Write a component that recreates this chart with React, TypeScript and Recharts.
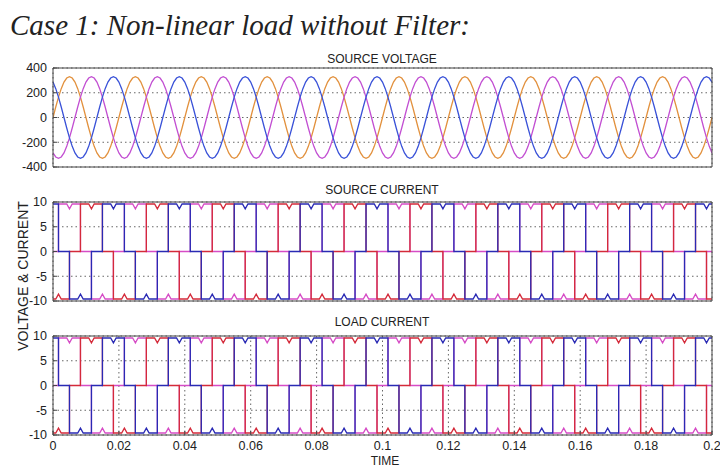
import { CartesianGrid, Line, LineChart, XAxis, YAxis } from "recharts";

// time axis (seconds)
const period = 0.02;
const cycles = 10;
const timeTicks = [0, 0.02, 0.04, 0.06, 0.08, 0.1, 0.12, 0.14, 0.16, 0.18, 0.2];
const timeLabels = ["0", "0.02", "0.04", "0.06", "0.08", "0.1", "0.12", "0.14", "0.16", "0.18", "0.2"];

// source voltage, one cycle per phase, read every 15 degrees
const voltageAngles = [0, 15, 30, 45, 60, 75, 90, 105, 120, 135, 150, 165, 180, 195, 210, 225, 240, 255, 270, 285, 300, 315, 330, 345];
const voltageA = [0, 85, 165, 233, 286, 319, 330, 319, 286, 233, 165, 85, 0, -85, -165, -233, -286, -319, -330, -319, -286, -233, -165, -85];
const voltageB = [-286, -319, -330, -319, -286, -233, -165, -85, 0, 85, 165, 233, 286, 319, 330, 319, 286, 233, 165, 85, 0, -85, -165, -233];
const voltageC = [286, 233, 165, 85, 0, -85, -165, -233, -286, -319, -330, -319, -286, -233, -165, -85, 0, 85, 165, 233, 286, 319, 330, 319];
const voltageTicks = [-400, -200, 0, 200, 400];

// line currents (six-pulse rectifier), one cycle per phase: break angles and values
const currentAAngles = [0, 30, 30, 75, 90, 105, 150, 150, 210, 210, 255, 270, 285, 330, 330, 360];
const currentA = [0, 0, 9.6, 9.6, 8.6, 9.6, 9.6, 0, 0, -9.6, -9.6, -8.6, -9.6, -9.6, 0, 0];
const currentBAngles = [0, 15, 30, 45, 90, 90, 150, 150, 195, 210, 225, 270, 270, 330, 330, 360];
const currentB = [-9.6, -9.6, -8.6, -9.6, -9.6, 0, 0, 9.6, 9.6, 8.6, 9.6, 9.6, 0, 0, -9.6, -9.6];
const currentCAngles = [0, 30, 30, 90, 90, 135, 150, 165, 210, 210, 270, 270, 315, 330, 345, 360];
const currentC = [9.6, 9.6, 0, 0, -9.6, -9.6, -8.6, -9.6, -9.6, 0, 0, 9.6, 9.6, 8.6, 9.6, 9.6];
const currentTicks = [-10, -5, 0, 5, 10];

const voltageColors = ["#e2913e", "#c24fd2", "#3a52d8"];
const currentColors = ["#d64cc6", "#d42a3a", "#2a2ab4"];

// repeat the measured cycle over the 0.2 s window
const tile = (angles: number[], values: number[]) => {
  const pts: { t: number; v: number }[] = [];
  for (let k = 0; k < cycles; k++) {
    angles.forEach((a, i) => pts.push({ t: ((k * 360 + a) / 360) * period, v: values[i] }));
  }
  pts.push({ t: cycles * period, v: values[0] });
  return pts;
};

const voltageSeries = [
  tile(voltageAngles, voltageA),
  tile(voltageAngles, voltageB),
  tile(voltageAngles, voltageC),
];
// no filter: source current and load current are the same waveforms
const currentSeries = [
  tile(currentAAngles, currentA),
  tile(currentBAngles, currentB),
  tile(currentCAngles, currentC),
];

const frame = "#454545";
const tickFont = { fontSize: 12.5, fontFamily: "Liberation Sans, Arial, sans-serif", fill: "#222" };

type PanelProps = {
  top: number;
  domain: [number, number];
  ticks: number[];
  series: { t: number; v: number }[][];
  colors: string[];
  showTime?: boolean;
};

const Panel = ({ top, domain, ticks, series, colors, showTime }: PanelProps) => (
  <div style={{ position: "absolute", left: 0, top }}>
    <LineChart width={720} height={131} margin={{ top: 4, right: 0, bottom: 0, left: 0 }}>
      <CartesianGrid stroke="#555" strokeDasharray="1.5 3" strokeWidth={0.9} />
      <XAxis
        dataKey="t"
        type="number"
        domain={[0, 0.2]}
        ticks={timeTicks}
        allowDataOverflow
        height={24}
        tickSize={-4}
        tickMargin={10}
        stroke={frame}
        tick={showTime ? tickFont : false}
        tickFormatter={(v: number) => timeLabels[timeTicks.indexOf(v)] ?? String(v)}
      />
      <XAxis
        xAxisId="top"
        orientation="top"
        dataKey="t"
        type="number"
        domain={[0, 0.2]}
        ticks={timeTicks}
        height={4}
        tickSize={-4}
        stroke={frame}
        tick={false}
      />
      <YAxis
        type="number"
        domain={domain}
        ticks={ticks}
        width={53}
        tickSize={-4}
        tickMargin={10}
        stroke={frame}
        tick={tickFont}
      />
      <YAxis
        yAxisId="right"
        orientation="right"
        type="number"
        domain={domain}
        ticks={ticks}
        width={8}
        tickSize={-4}
        stroke={frame}
        tick={false}
      />
      {series.map((d, i) => (
        <Line
          key={i}
          data={d}
          dataKey="v"
          type="linear"
          stroke={colors[i]}
          strokeWidth={1.3}
          dot={false}
          isAnimationActive={false}
        />
      ))}
    </LineChart>
  </div>
);

const label = { fontFamily: "Liberation Sans, Arial, sans-serif", fill: "#222" };

export default function App() {
  return (
    <div style={{ position: "absolute", left: 0, top: 0, width: 720, height: 468, background: "#fff", overflow: "hidden" }}>
      <Panel top={60} domain={[-400, 400]} ticks={voltageTicks} series={voltageSeries} colors={voltageColors} />
      <Panel top={194} domain={[-10, 10]} ticks={currentTicks} series={currentSeries} colors={currentColors} />
      <Panel top={328} domain={[-10, 10]} ticks={currentTicks} series={currentSeries} colors={currentColors} showTime />
      <svg width={720} height={468} style={{ position: "absolute", left: 0, top: 0, pointerEvents: "none" }}>
        <text x={10} y={35} fontFamily="Liberation Serif, Times New Roman, serif" fontStyle="italic" fontSize={29} fill="#222">
          Case 1: Non-linear load without Filter:
        </text>
        <text x={382} y={63} textAnchor="middle" fontSize={12} {...label}>SOURCE VOLTAGE</text>
        <text x={382} y={194} textAnchor="middle" fontSize={12} {...label}>SOURCE CURRENT</text>
        <text x={382} y={326} textAnchor="middle" fontSize={12} {...label}>LOAD CURRENT</text>
        <text x={385} y={465} textAnchor="middle" fontSize={12} {...label}>TIME</text>
        <text x={28} y={276} transform="rotate(-90 28 276)" textAnchor="middle" fontSize={14} {...label}>
          VOLTAGE &amp; CURRENT
        </text>
      </svg>
    </div>
  );
}
